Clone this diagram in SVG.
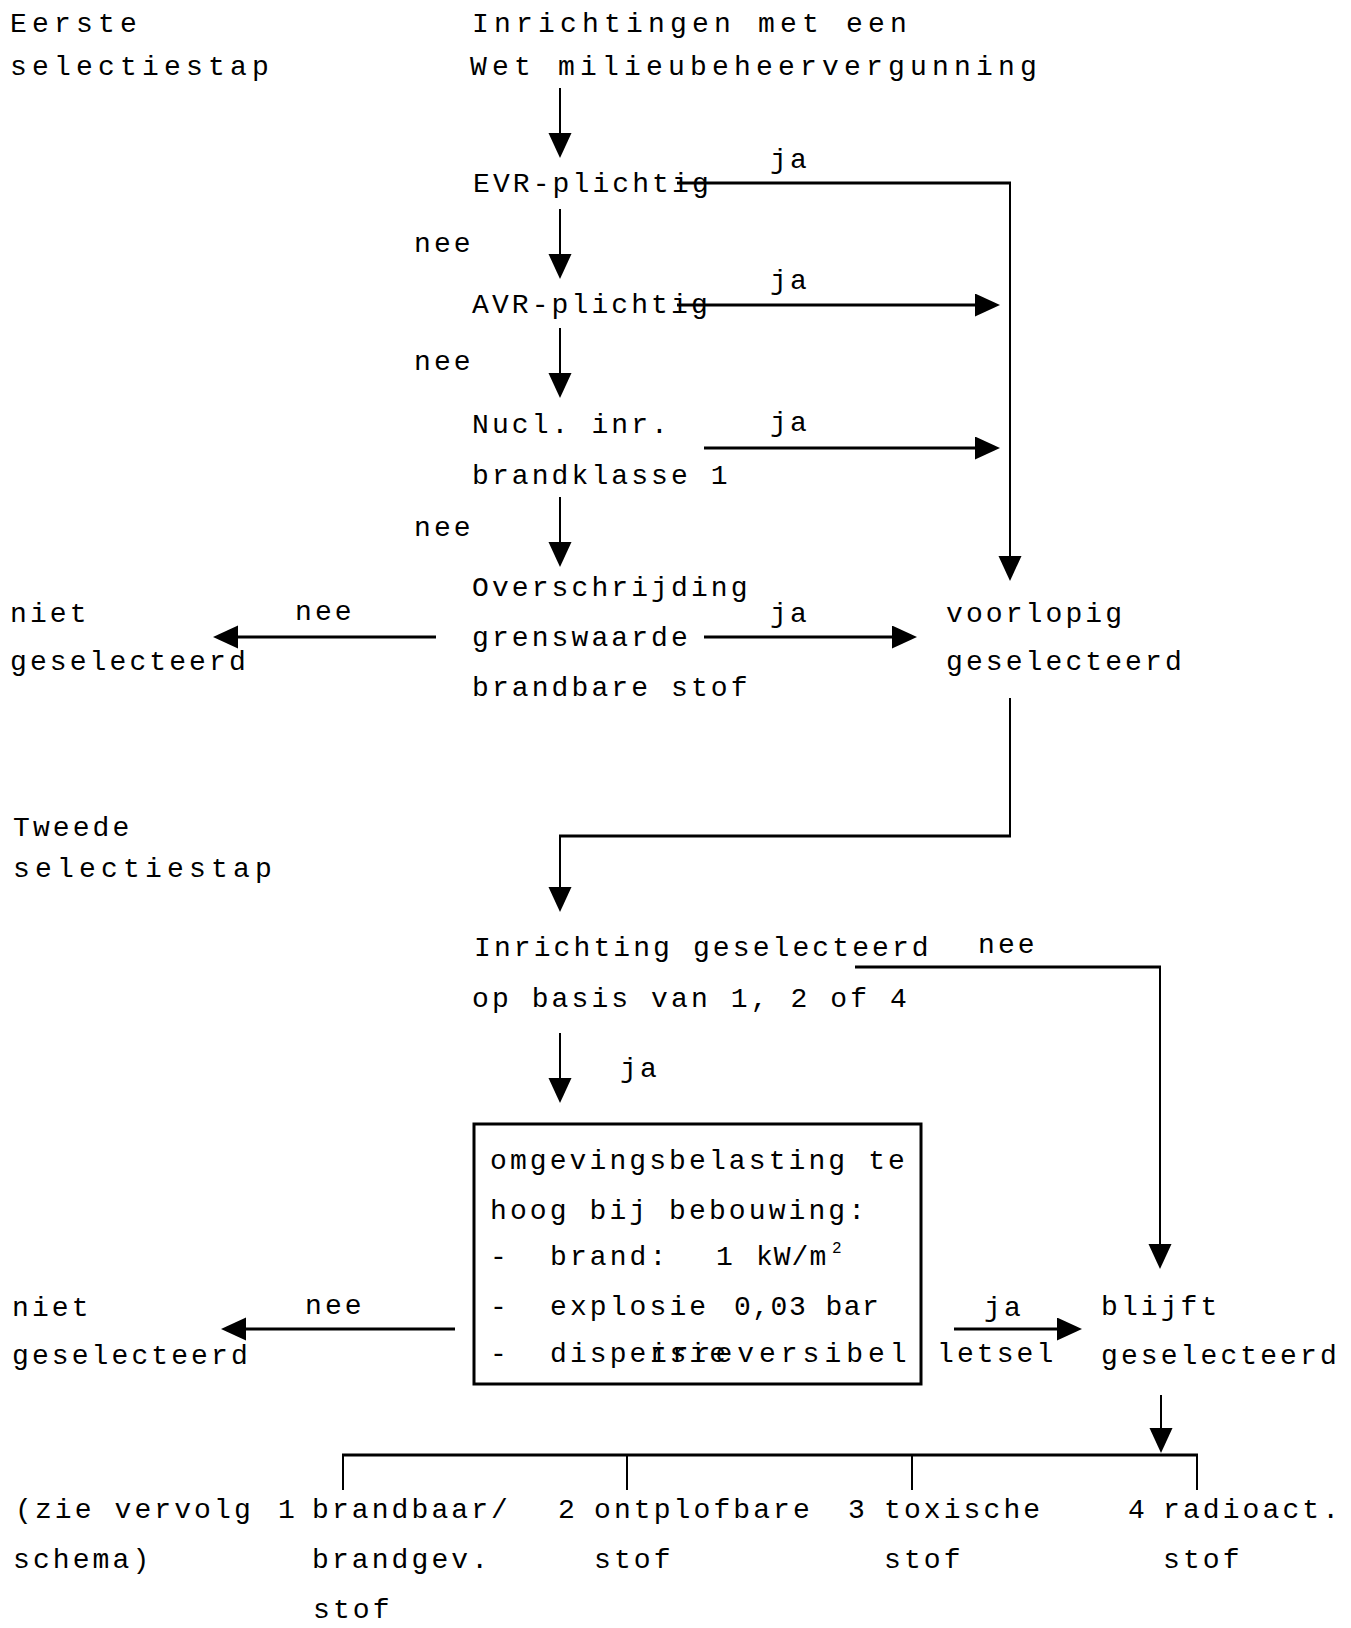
<svg xmlns="http://www.w3.org/2000/svg" width="1351" height="1628" viewBox="0 0 1351 1628">
<style>
text{font-family:"Liberation Mono","Courier New",monospace;font-size:28px;fill:#000;letter-spacing:3.1px}
.w{letter-spacing:5.2px}
.h{stroke:#000;stroke-width:3;fill:none}
.v{stroke:#000;stroke-width:2;fill:none}
.a{marker-end:url(#ah)}
</style>
<defs>
<marker id="ah" markerUnits="userSpaceOnUse" markerWidth="26" markerHeight="24" refX="20" refY="11.5" orient="auto">
<path d="M0,0 L25,11.5 L0,23 z" fill="#000"/>
</marker>
</defs>
<rect width="1351" height="1628" fill="#fff"/>
<g id="labels">
<text class="w" x="10" y="32">Eerste</text>
<text class="w" x="10" y="75">selectiestap</text>
<text x="13" y="836">Tweede</text>
<text class="w" x="13" y="877">selectiestap</text>
</g>
<g id="start"><text class="w" x="472" y="32">Inrichtingen met een</text><text class="w" x="470" y="75">Wet milieubeheervergunning</text></g>
<g id="evr"><text x="473" y="192">EVR-plichtig</text></g>
<g id="avr"><text x="472" y="313">AVR-plichtig</text></g>
<g id="nucl"><text x="472" y="433">Nucl. inr.</text><text x="472" y="484">brandklasse 1</text></g>
<g id="overschrijding"><text x="472" y="596">Overschrijding</text><text x="472" y="646">grenswaarde</text><text x="472" y="696">brandbare stof</text></g>
<g id="niet1"><text x="10" y="622">niet</text><text x="10" y="670">geselecteerd</text></g>
<g id="voorlopig"><text x="946" y="622">voorlopig</text><text x="946" y="670">geselecteerd</text></g>
<g id="inrichting"><text x="474" y="956">Inrichting geselecteerd</text><text x="472" y="1007">op basis van 1, 2 of 4</text></g>
<g id="box">
<rect x="474" y="1124" width="447" height="260" class="h"/>
<text x="490" y="1169">omgevingsbelasting te</text>
<text x="490" y="1219">hoog bij bebouwing:</text>
<text x="490" y="1265">-</text><text x="550" y="1265">brand:</text><text x="716" y="1265">1</text><text x="756" y="1265" style="letter-spacing:1px">kW/m</text><text x="832" y="1253" style="font-size:16px;letter-spacing:0">2</text>
<text x="490" y="1315">-</text><text x="550" y="1315">explosie</text><text x="734" y="1315" style="letter-spacing:1.5px">0,03 bar</text>
<text x="490" y="1362">-</text><text x="550" y="1362">dispersie</text><text x="650" y="1362" style="letter-spacing:5px">irreversibel</text>
</g>
<g id="niet2"><text x="12" y="1316">niet</text><text x="12" y="1364">geselecteerd</text></g>
<g id="blijft"><text x="1101" y="1315">blijft</text><text x="1101" y="1364">geselecteerd</text></g>
<g id="vervolg"><text x="15" y="1518">(zie vervolg</text><text x="13" y="1568">schema)</text></g>
<g id="stof1"><text x="278" y="1518">1</text><text x="312" y="1518">brandbaar/</text><text x="312" y="1568">brandgev.</text><text x="313" y="1618">stof</text></g>
<g id="stof2"><text x="558" y="1518">2</text><text x="594" y="1518">ontplofbare</text><text x="594" y="1568">stof</text></g>
<g id="stof3"><text x="848" y="1518">3</text><text x="884" y="1518">toxische</text><text x="884" y="1568">stof</text></g>
<g id="stof4"><text x="1128" y="1518">4</text><text x="1163" y="1518">radioact.</text><text x="1163" y="1568">stof</text></g>
<g id="connectors">
<line class="v a" x1="560" y1="88" x2="560" y2="153"/>
<line class="h" x1="677" y1="183" x2="1011" y2="183"/>
<line class="v a" x1="1010" y1="183" x2="1010" y2="576"/>
<line class="v a" x1="560" y1="209" x2="560" y2="274"/>
<line class="h a" x1="677" y1="305" x2="995" y2="305"/>
<line class="v a" x1="560" y1="328" x2="560" y2="393"/>
<line class="h a" x1="704" y1="448" x2="995" y2="448"/>
<line class="v a" x1="560" y1="497" x2="560" y2="562"/>
<line class="h a" x1="704" y1="637" x2="912" y2="637"/>
<line class="h a" x1="436" y1="637" x2="218" y2="637"/>
<line class="v" x1="1010" y1="698" x2="1010" y2="837"/>
<line class="h" x1="1011" y1="836" x2="559" y2="836"/>
<line class="v a" x1="560" y1="835" x2="560" y2="907"/>
<line class="v a" x1="560" y1="1033" x2="560" y2="1098"/>
<line class="h" x1="855" y1="967" x2="1161" y2="967"/>
<line class="v a" x1="1160" y1="966" x2="1160" y2="1264"/>
<line class="h a" x1="455" y1="1329" x2="226" y2="1329"/>
<line class="h a" x1="954" y1="1329" x2="1077" y2="1329"/>
<line class="v a" x1="1161" y1="1395" x2="1161" y2="1448"/>
<line class="h" x1="342" y1="1455" x2="1198" y2="1455"/>
<line class="v" x1="343" y1="1455" x2="343" y2="1490"/>
<line class="v" x1="627" y1="1455" x2="627" y2="1490"/>
<line class="v" x1="912" y1="1455" x2="912" y2="1490"/>
<line class="v" x1="1197" y1="1455" x2="1197" y2="1490"/>
</g>
<g id="edge-labels">
<text x="770" y="168">ja</text>
<text x="414" y="252">nee</text>
<text x="770" y="289">ja</text>
<text x="414" y="370">nee</text>
<text x="770" y="431">ja</text>
<text x="414" y="536">nee</text>
<text x="770" y="622">ja</text>
<text x="295" y="620">nee</text>
<text x="978" y="953">nee</text>
<text x="620" y="1077">ja</text>
<text x="305" y="1314">nee</text>
<text x="984" y="1316">ja</text>
<text x="937" y="1362">letsel</text>
</g>
</svg>
